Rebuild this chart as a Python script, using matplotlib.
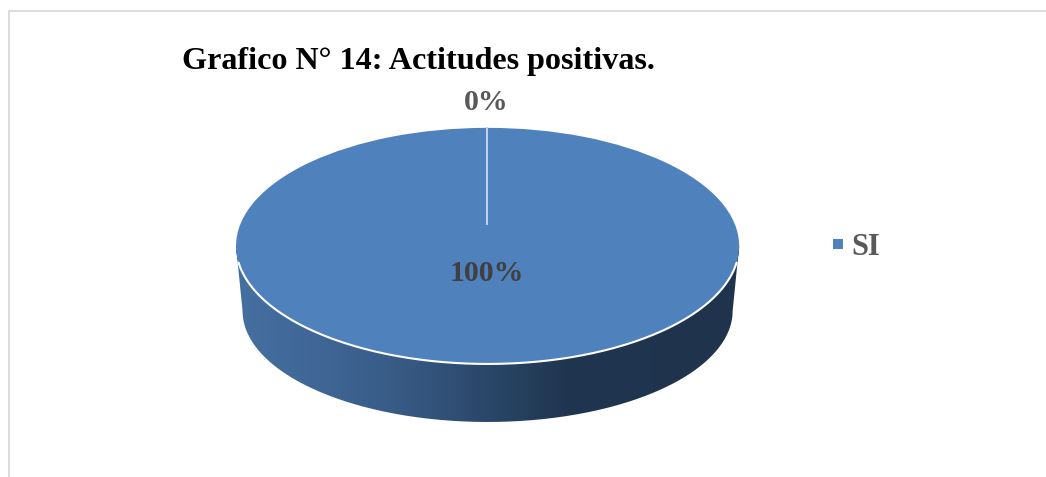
import matplotlib
matplotlib.use("Agg")
import matplotlib.pyplot as plt
import numpy as np
from matplotlib.colors import LinearSegmentedColormap
from matplotlib.patches import PathPatch
from matplotlib.path import Path

W, H = 1046, 477

# data
categories = ["SI", "NO"]
values = [100, 0]
pct_labels = ["100%", "0%"]
title = "Grafico N° 14: Actitudes positivas."

plt.rcParams["font.family"] = ["Liberation Serif", "DejaVu Serif"]
plt.rcParams["font.weight"] = "bold"

# the extra 0.2 px stops the canvas being floored to 476 rows
fig = plt.figure(figsize=((W + 0.2) / 100, (H + 0.2) / 100), dpi=100, facecolor="white")

# full figure axes in pixel coords for frame and text
bg = fig.add_axes([0, 0, 1, 1])
bg.set_xlim(0, W)
bg.set_ylim(H, 0)
bg.axis("off")

# chart frame is cut off at the bottom and right
bg.plot([8.5, 8.5, W], [H, 11, 11], color="#d9d9d9", lw=1.3)

# top face ellipse geometry, in pixels
cx, cy, rx, ry = 487.5, 246, 251.5, 118
# lower rim of the side, a bit smaller because of the perspective
cx2, cy2, rx2, ry2 = 487.5, 311, 245, 111

t = np.linspace(0, np.pi, 200)
top_x = cx + rx * np.cos(t)
top_y = cy + ry * np.sin(t)
low_x = cx2 + rx2 * np.cos(t)
low_y = cy2 + ry2 * np.sin(t)

side_cmap = LinearSegmentedColormap.from_list(
    "side",
    [(0.0, "#44709f"), (0.18, "#3f6595"), (0.33, "#375a84"), (0.50, "#2a4769"),
     (0.66, "#20354f"), (1.0, "#1f334d")],
)
side_img = bg.imshow(
    np.linspace(0, 1, 512)[None, :], cmap=side_cmap, aspect="auto",
    extent=(cx - rx, cx + rx, cy2 + ry2 + 2, cy - 5), zorder=1,
)
verts = np.vstack([
    [[cx + rx, cy]],
    np.column_stack([low_x, low_y]),
    [[cx - rx, cy]],
    np.column_stack([top_x, top_y]),
])
side_clip = PathPatch(Path(verts), transform=bg.transData, facecolor="none", edgecolor="none")
bg.add_patch(side_clip)
side_img.set_clip_path(side_clip)
bg.set_xlim(0, W)
bg.set_ylim(H, 0)

# top face: the pie itself, squashed through the axes box
pie_ax = fig.add_axes([(cx - rx) / W, 1 - (cy + ry) / H, 2 * rx / W, 2 * ry / H], zorder=2)
pie_ax.pie(values, startangle=90, counterclock=False, radius=1, colors=["#4f81bd", "#4f81bd"])
pie_ax.set_aspect("auto")
pie_ax.set_xlim(-1, 1)
pie_ax.set_ylim(-1, 1)
pie_ax.patch.set_alpha(0)

over = fig.add_axes([0, 0, 1, 1], zorder=3)
over.set_xlim(0, W)
over.set_ylim(H, 0)
over.axis("off")
over.patch.set_alpha(0)

# white rim on the front of the disc, and the slice line of the 0% slice
rim = (t > 0.13) & (t < np.pi - 0.13)
over.plot(top_x[rim], top_y[rim], color="white", lw=1.5, solid_capstyle="round")
over.plot([cx - 0.5, cx - 0.5], [cy - ry, 224], color="#c5d5e8", lw=1.4)

# text
over.text(182, 61.5, title, fontsize=23.1, color="black", ha="left", va="center")
over.text(486, 102, pct_labels[1], fontsize=21.5, color="#595959", ha="center", va="center")
over.text(487, 273, pct_labels[0], fontsize=21.5, color="#404040", ha="center", va="center")
over.plot([837.5], [244], marker="s", ms=6.5, color="#4f81bd", mew=0)
over.text(851, 247, categories[0], fontsize=22, color="#595959", ha="left", va="center")

fig.savefig("out.png", dpi=100)
